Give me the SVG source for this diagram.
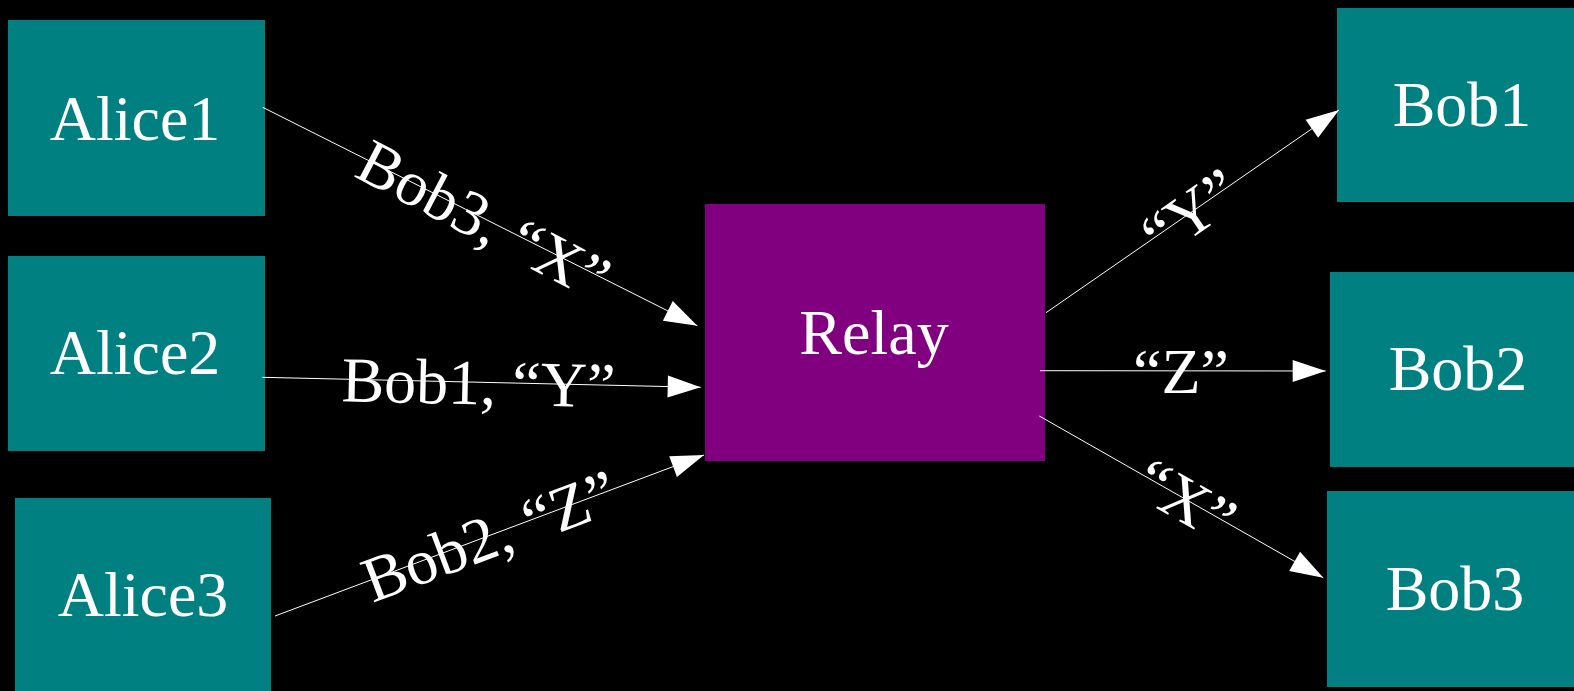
<svg xmlns="http://www.w3.org/2000/svg" width="1574" height="691" viewBox="0 0 1574 691">
<style>
.alice, .bob { fill: #008080; }
.relay { fill: #800080; }
text { font-family: "Liberation Serif", "Times New Roman", serif; font-size: 64px; fill: #ffffff; text-anchor: middle; }
.edge { stroke: #ffffff; stroke-width: 1; fill: none; marker-end: url(#arrow); }
</style>
<defs>
<marker id="arrow" markerUnits="userSpaceOnUse" markerWidth="34" markerHeight="22" refX="33" refY="11" orient="auto" overflow="visible">
<path d="M0,0 L33,11 L0,22 Z" fill="#ffffff"/>
</marker>
</defs>
<rect x="0" y="0" width="1574" height="691" fill="#000000"/>
<g id="alice1"><rect class="alice" x="8" y="20" width="257" height="196"/><text x="135" y="140">Alice1</text></g>
<g id="alice2"><rect class="alice" x="8" y="256" width="257" height="195"/><text x="135" y="374">Alice2</text></g>
<g id="alice3"><rect class="alice" x="15" y="498" width="256" height="193"/><text x="143" y="616">Alice3</text></g>
<g id="relay"><rect class="relay" x="705" y="204" width="340" height="257"/><text x="874" y="354">Relay</text></g>
<g id="bob1"><rect class="bob" x="1337" y="8" width="250" height="194"/><text x="1462" y="126">Bob1</text></g>
<g id="bob2"><rect class="bob" x="1330" y="272" width="257" height="195"/><text x="1458" y="390">Bob2</text></g>
<g id="bob3"><rect class="bob" x="1327" y="491" width="256" height="196"/><text x="1455" y="610">Bob3</text></g>
<g id="connectors">
<line class="edge" x1="262.7" y1="107.3" x2="697.3" y2="325.7"/>
<line class="edge" x1="262.3" y1="377.3" x2="700.7" y2="387.3"/>
<line class="edge" x1="275" y1="616" x2="704" y2="455"/>
<line class="edge" x1="1046" y1="312.7" x2="1339" y2="110"/>
<line class="edge" x1="1040" y1="370.7" x2="1325.7" y2="371"/>
<line class="edge" x1="1039.3" y1="416" x2="1323.3" y2="577.7"/>
<text transform="rotate(27.5 484 219.5)" x="484" y="241.5">Bob3, “X”</text>
<text transform="rotate(1.3 478.5 382.3)" x="478.5" y="404.3">Bob1, “Y”</text>
<text transform="rotate(-20.6 489.5 535.5)" x="489.5" y="557.5">Bob2, “Z”</text>
<text transform="rotate(-34.7 1190.5 212.4)" x="1190.5" y="234.4">“Y”</text>
<text x="1181" y="393">“Z”</text>
<text transform="rotate(29.7 1186 499.5)" x="1186" y="521.5">“X”</text>
</g>
</svg>
